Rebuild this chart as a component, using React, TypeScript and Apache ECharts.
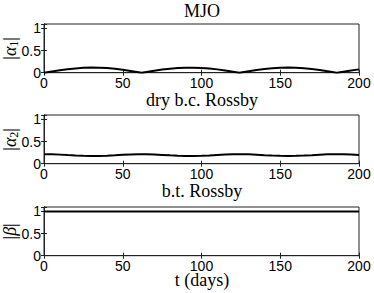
import React, { useEffect, useRef } from "react";
import * as echarts from "echarts";

const days = [0, 5, 10, 15, 20, 25, 30, 35, 40, 45, 50, 55, 60, 62, 65, 70, 75, 80, 85, 90, 95, 100, 105, 110, 115, 120, 124, 125, 130, 135, 140, 145, 150, 155, 160, 165, 170, 175, 180, 185, 186, 190, 195, 200];
const alpha1 = [0, 0.029, 0.056, 0.08, 0.097, 0.11, 0.115, 0.112, 0.104, 0.088, 0.065, 0.04, 0.012, 0, 0.018, 0.045, 0.071, 0.091, 0.106, 0.113, 0.114, 0.108, 0.095, 0.075, 0.05, 0.023, 0, 0.006, 0.035, 0.061, 0.083, 0.1, 0.111, 0.115, 0.111, 0.1, 0.083, 0.06, 0.034, 0.005, 0, 0.023, 0.05, 0.075];
const alpha2 = [0.215, 0.213, 0.205, 0.194, 0.185, 0.178, 0.175, 0.176, 0.182, 0.19, 0.2, 0.209, 0.214, 0.215, 0.214, 0.208, 0.199, 0.189, 0.181, 0.176, 0.175, 0.179, 0.186, 0.196, 0.206, 0.213, 0.215, 0.215, 0.211, 0.203, 0.193, 0.184, 0.177, 0.175, 0.177, 0.184, 0.193, 0.203, 0.211, 0.215, 0.215, 0.213, 0.206, 0.197];
const betaDays = [0, 200];
const beta = [1, 1];

const xTicks = [0, 50, 100, 150, 200];
const yTickLabels: Record<string, string> = { "0": "0", "0.5": "0.5", "1": "1" };
const subtitles = ["dry b.c. Rossby", "b.t. Rossby", "t (days)"];
const yNames = [
  "{t||}{a|α}{s|1}{t||}",
  "{t||}{a|α}{s|2}{t||}",
  "{t||}{a|β}{t||}",
];
const title = "MJO";

const serif = "'Liberation Serif', 'DejaVu Serif', serif";
const sans = "'Liberation Sans', Arial, sans-serif";

export default function App() {
  const ref = useRef<HTMLDivElement>(null);
  useEffect(() => {
    if (!ref.current) return;
    const chart = echarts.init(ref.current, undefined, { renderer: "svg" });
    const tops = [24, 115, 207];
    const subY = [100, 191, 279.5];
    const gridH = 48.7;
    const grids = tops.map((top) => ({
      left: 44,
      width: 315,
      top,
      height: gridH,
      show: true,
      borderColor: "#222",
      borderWidth: 1,
      backgroundColor: "#fff",
      containLabel: false,
      outerBoundsMode: "none",
    }));
    const xAxes: any[] = [];
    const yAxes: any[] = [];
    tops.forEach((_, i) => {
      xAxes.push({
        type: "value",
        gridIndex: i,
        min: 0,
        max: 200,
        interval: 50,
        position: "bottom",
        axisLine: { show: true, lineStyle: { color: "#222", width: 1 } },
        axisTick: { show: true, inside: true, length: 3, lineStyle: { color: "#222" } },
        splitLine: { show: false },
        axisLabel: {
          show: true,
          margin: 3,
          color: "#000",
          fontFamily: sans,
          fontSize: 14,
          lineHeight: 14,
          formatter: (v: number) => (xTicks.includes(v) ? String(v) : ""),
        },
      });
      xAxes.push({
        type: "value",
        gridIndex: i,
        min: 0,
        max: 200,
        interval: 50,
        position: "top",
        axisLine: { show: true, lineStyle: { color: "#222", width: 1 } },
        axisTick: { show: true, inside: true, length: 3, lineStyle: { color: "#222" } },
        splitLine: { show: false },
        axisLabel: { show: false },
      });
      yAxes.push({
        type: "value",
        gridIndex: i,
        min: 0,
        max: 1.1,
        interval: 0.5,
        position: "left",
        axisLine: { show: true, lineStyle: { color: "#222", width: 1 } },
        axisTick: { show: true, inside: true, length: 3, lineStyle: { color: "#222" } },
        splitLine: { show: false },
        axisLabel: {
          show: true,
          margin: 3,
          color: "#000",
          fontFamily: sans,
          fontSize: 14,
          formatter: (v: number) => yTickLabels[String(v)] ?? "",
        },
      });
      yAxes.push({
        type: "value",
        gridIndex: i,
        min: 0,
        max: 1.1,
        interval: 0.5,
        position: "right",
        axisLine: { show: true, lineStyle: { color: "#222", width: 1 } },
        axisTick: { show: true, inside: true, length: 3, lineStyle: { color: "#222" } },
        splitLine: { show: false },
        axisLabel: { show: false },
      });
    });
    const mk = (xs: number[], ys: number[]) => xs.map((x, k) => [x, ys[k]]);
    const seriesData = [mk(days, alpha1), mk(days, alpha2), mk(betaDays, beta)];
    const series = seriesData.map((d, i) => ({
      type: "line",
      xAxisIndex: i * 2,
      yAxisIndex: i * 2,
      data: d,
      showSymbol: false,
      symbol: "none",
      lineStyle: { color: "#000", width: 2 },
      z: 5,
    }));
    const yNameGraphics = tops.map((top, i) => ({
      type: "text",
      x: 10,
      y: top + gridH / 2,
      rotation: Math.PI / 2,
      style: {
        text: yNames[i],
        align: "center",
        verticalAlign: "middle",
        fill: "#000",
        rich: {
          t: { fontFamily: serif, fontSize: 18, fill: "#000" },
          a: { fontFamily: serif, fontSize: 18, fontStyle: "italic", fill: "#000" },
          s: { fontFamily: serif, fontSize: 12, fill: "#000", verticalAlign: "bottom", padding: [8, 0, 0, 0] },
        },
      },
    }));
    const subGraphics = subtitles.map((s, i) => ({
      type: "text",
      x: 202,
      y: subY[i],
      style: {
        text: s,
        align: "center",
        verticalAlign: "middle",
        fontFamily: serif,
        fontSize: 18,
        lineHeight: 18,
        fill: "#000",
      },
    }));
    chart.setOption({
      animation: false,
      backgroundColor: "#fff",
      grid: grids,
      xAxis: xAxes,
      yAxis: yAxes,
      series,
      graphic: [
        {
          type: "text",
          x: 202,
          y: 11,
          style: {
            text: title,
            align: "center",
            verticalAlign: "middle",
            fontFamily: serif,
            fontSize: 18,
            fill: "#000",
          },
        },
        ...yNameGraphics,
        ...subGraphics,
      ],
    });
    return () => chart.dispose();
  }, []);
  return <div ref={ref} style={{ width: 374, height: 293, position: "absolute", left: 0, top: 0 }} />;
}
